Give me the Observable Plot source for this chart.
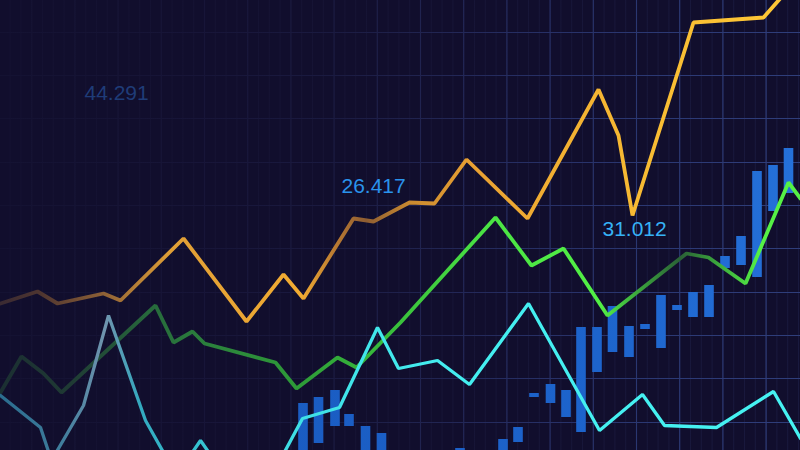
<!DOCTYPE html>
<html>
<head>
<meta charset="utf-8">
<script src="https://cdn.jsdelivr.net/npm/d3@7"></script>
<script src="https://cdn.jsdelivr.net/npm/@observablehq/plot@0.6"></script>
<style>
  html, body { margin: 0; padding: 0; background: #110e2d; overflow: hidden; }
  #chart { width: 800px; height: 450px; }
</style>
</head>
<body>
<div id="chart"></div>
<script>
// ---- Data (time t along x, value along y) ----
const orangeT = [0, 37, 57, 103, 120, 183, 246, 283, 303, 353, 373, 409, 434, 466, 527, 598, 618, 632, 693, 763, 800];
const orangeV = [147, 159, 147, 157, 150, 212, 129, 176, 152, 232, 229, 248, 247, 291, 232, 361, 315, 235, 428, 433, 475];

const greenT = [0, 21, 43, 61, 155, 173, 192, 204, 275, 296, 337, 356, 400, 495, 531, 563, 607, 686, 708, 745, 788, 800];
const greenV = [58, 94, 77, 58, 145, 108, 119, 107, 88, 62, 93, 83, 128, 233, 185, 202, 135, 197, 193, 167, 268, 252];

const cyanT = [0, 40, 51, 83, 108, 145, 176, 200, 251, 302, 339, 377, 398, 437, 469, 528, 599, 642, 664, 716, 773, 800];
const cyanV = [55, 23, -10, 45, 135, 30, -25, 10, -63, 32, 43, 123, 82, 90, 66, 147, 20, 56, 25, 23, 59, 12];

const candleT     = [303, 318.5, 335, 349, 365.5, 381.5, 460, 503, 518, 534, 550.5, 566, 581, 597, 612.5, 629, 645, 661, 677, 693, 709, 725, 741, 757, 773, 788.5];
const candleHigh  = [47, 53, 60, 36, 24, 17, 2, 11, 23, 57, 66, 60, 123, 123, 144, 124, 126, 155, 145, 158, 165, 194, 214, 279, 285, 302];
const candleLow   = [-10, 7, 24, 24, -10, -10, -10, -10, 8, 53, 47, 33, 18, 78, 98, 93, 121, 102, 140, 133, 133, 182, 185, 173, 239, 257];

const labelText = ["44.291", "26.417", "31.012"];
const labelT    = [84, 341, 602];
const labelV    = [357, 264, 221];
const labelColor = ["#1f3c78", "#2a93ec", "#36b2f6"];

const gridMajorX = d3.range(31.2, 800, 43.2);
const gridMinorX = d3.range(9.6, 800, 10.8);
const gridMajorY = [418, 375, 332, 288, 245, 202, 158, 115, 72, 28];

// ---- Build tables ----
const orange = orangeT.map((t, i) => ({t, v: orangeV[i]}));
const green = greenT.map((t, i) => ({t, v: greenV[i]}));
const cyan = cyanT.map((t, i) => ({t, v: cyanV[i]}));
const candles = candleT.map((t, i) => ({t, hi: candleHigh[i], lo: candleLow[i]}));
const labels = labelText.map((s, i) => ({s, t: labelT[i], v: labelV[i], c: labelColor[i]}));

const svg = Plot.plot({
  width: 800,
  height: 450,
  margin: 0,
  x: {domain: [0, 800], axis: null},
  y: {domain: [0, 450], axis: null},
  style: {background: "#110e2d", overflow: "hidden"},
  marks: [
    Plot.ruleX(gridMinorX, {stroke: "url(#gridMinor)", strokeWidth: 1}),
    Plot.ruleX(gridMajorX, {stroke: "url(#gridGrad)", strokeWidth: 1.1}),
    Plot.ruleY(gridMajorY, {stroke: "url(#gridGrad)", strokeWidth: 1.1}),
    Plot.rect(candles, {
      x1: d => d.t - 4.8, x2: d => d.t + 4.8,
      y1: "lo", y2: "hi",
      fill: "url(#candleGrad)", clip: true
    }),
    Plot.line(green, {x: "t", y: "v", stroke: "url(#greenGrad)", strokeWidth: 3.8, strokeLinejoin: "miter", clip: true}),
    Plot.line(cyan, {x: "t", y: "v", stroke: "url(#cyanGrad)", strokeWidth: 3.3, strokeLinejoin: "miter", clip: true}),
    Plot.line(orange, {x: "t", y: "v", stroke: "url(#orangeGrad)", strokeWidth: 3.8, strokeLinejoin: "miter", clip: true}),
    Plot.text(labels, {
      x: "t", y: "v", text: "s", fill: "c",
      textAnchor: "start", lineAnchor: "middle",
      fontSize: 21, fontFamily: "Liberation Sans, Arial, sans-serif"
    })
  ]
});

// ---- gradients (along the x direction, in pixel space) ----
const defs = d3.select(svg).insert("defs", ":first-child");
function grad(id, stops) {
  const g = defs.append("linearGradient").attr("id", id)
    .attr("gradientUnits", "userSpaceOnUse")
    .attr("x1", 0).attr("x2", 800).attr("y1", 0).attr("y2", 0);
  stops.forEach(([o, c]) => g.append("stop").attr("offset", o / 800).attr("stop-color", c));
}
grad("gridGrad", [[0, "#141232"], [200, "#171538"], [330, "#1a1a40"], [420, "#20234f"], [520, "#262e63"], [650, "#2b3873"], [800, "#2f3e7b"]]);
grad("gridMinor", [[0, "#141131"], [400, "#161435"], [800, "#19193e"]]);
grad("orangeGrad", [[0, "#3a2a32"], [40, "#4e3530"], [100, "#8a5e36"], [170, "#e09f36"], [300, "#f2ac32"], [335, "#b97a32"], [365, "#8e5d32"], [410, "#c98a30"], [470, "#e8a032"], [560, "#f2b032"], [650, "#f8bc33"], [800, "#ffc936"]]);
grad("greenGrad", [[0, "#1b2f32"], [70, "#1f3a34"], [150, "#276a3c"], [210, "#2b823c"], [300, "#2e9c38"], [400, "#3ac23c"], [490, "#4be444"], [600, "#52f045"], [640, "#3aa23c"], [680, "#2a6036"], [715, "#3aa43c"], [760, "#55f245"], [800, "#55f245"]]);
grad("cyanGrad", [[0, "#2a6c8e"], [60, "#3f7d9c"], [105, "#7094ae"], [140, "#33a9bf"], [200, "#36c4d2"], [300, "#3fe0e6"], [450, "#44eef0"], [800, "#46f2f2"]]);
grad("candleGrad", [[280, "#1a5cc2"], [600, "#1d64cc"], [800, "#2571da"]]);

document.getElementById("chart").appendChild(svg);
</script>
</body>
</html>
